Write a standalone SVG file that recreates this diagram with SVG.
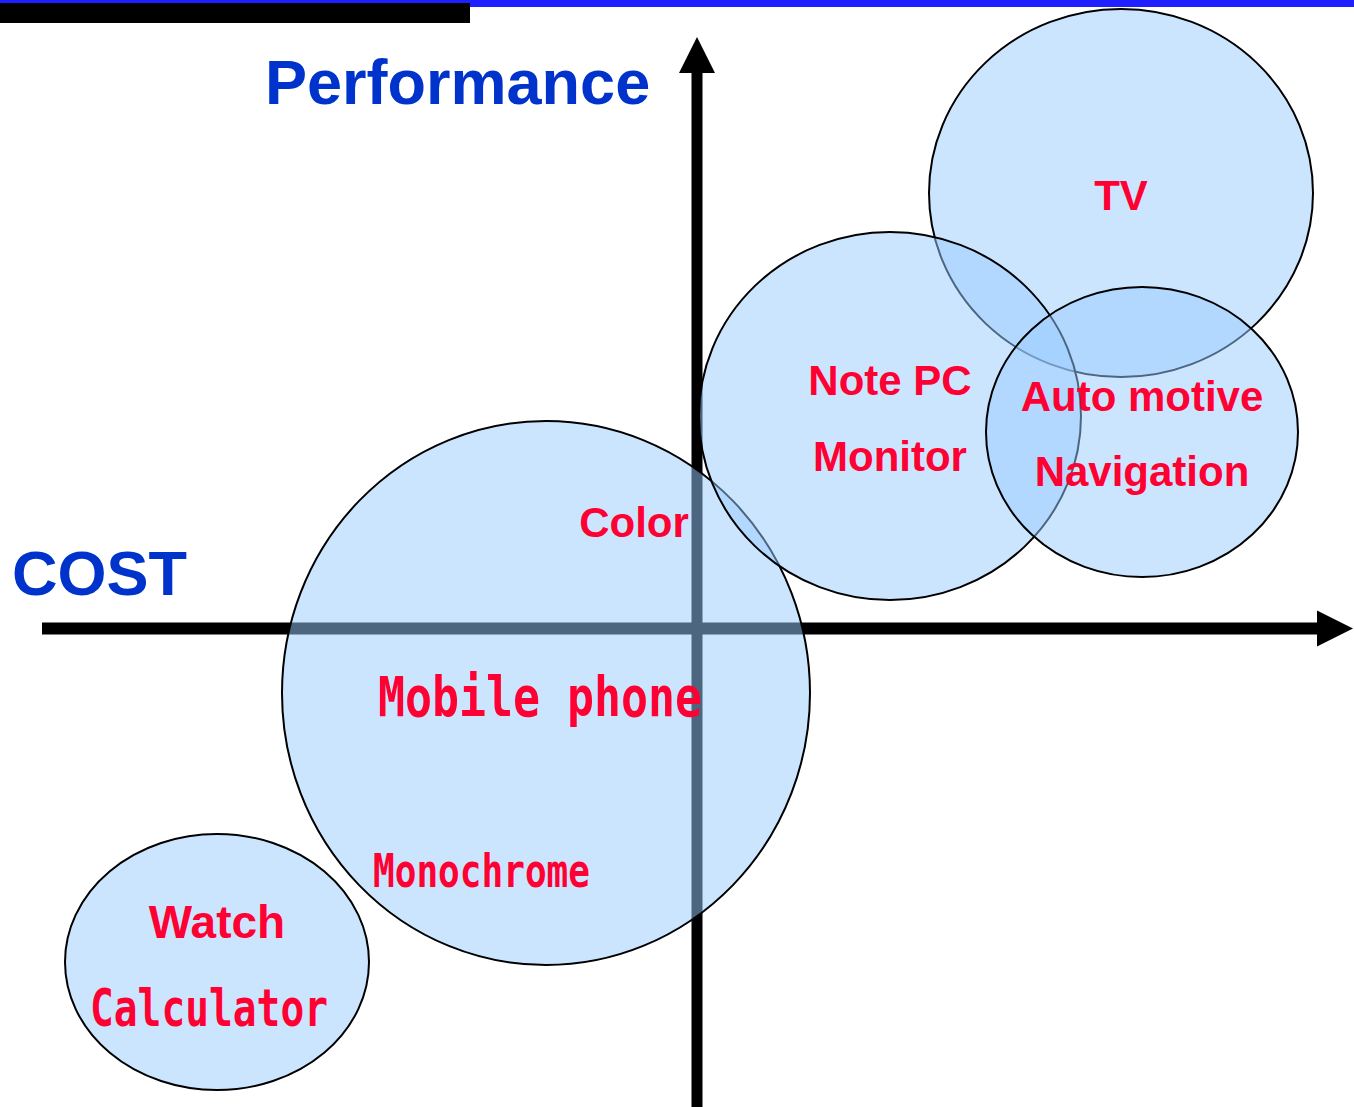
<svg xmlns="http://www.w3.org/2000/svg" width="1354" height="1107" viewBox="0 0 1354 1107">
<style>
.bubble{fill:#99ccff;fill-opacity:0.5;stroke:#000;stroke-width:2}
.axis{stroke:#000;fill:none}
.head{fill:#000}
.title{font-family:"Liberation Sans",Arial,sans-serif;font-weight:bold;font-size:63px;fill:#0033cc}
.lbl{font-family:"Liberation Sans",Arial,sans-serif;font-weight:bold;font-size:42px;fill:#ff0033;text-anchor:middle}
.mono{font-family:"DejaVu Sans Mono","Liberation Mono",monospace;font-weight:bold;fill:#ff0033}
</style>
<rect x="0" y="0" width="1354" height="7" fill="#1f1fff"/>
<rect x="0" y="3" width="470" height="20" fill="#000"/>
<g id="connectors">
<line class="axis" x1="697" y1="70" x2="697" y2="1107" stroke-width="11"/>
<polygon class="head" points="697,37 679,73 715,73"/>
<line class="axis" x1="42" y1="628.5" x2="1320" y2="628.5" stroke-width="12"/>
<polygon class="head" points="1353,628.5 1317,610.5 1317,646.5"/>
</g>
<text class="title" x="265" y="104">Performance</text>
<text class="title" x="12" y="595">COST</text>
<g id="watch">
<ellipse class="bubble" cx="217" cy="962" rx="152" ry="128"/>
</g>
<g id="mobile">
<ellipse class="bubble" cx="546" cy="693" rx="264" ry="272"/>
</g>
<g id="tv">
<ellipse class="bubble" cx="1121" cy="193" rx="192" ry="184"/>
</g>
<g id="notepc">
<ellipse class="bubble" cx="890" cy="416" rx="191" ry="184"/>
</g>
<g id="auto">
<ellipse class="bubble" cx="1142" cy="432" rx="156" ry="145"/>
</g>
<g id="labels">
<text class="lbl" x="1121" y="210">TV</text>
<text class="lbl" x="890" y="395">Note PC</text>
<text class="lbl" x="890" y="471">Monitor</text>
<text class="lbl" x="1142" y="411">Auto motive</text>
<text class="lbl" x="1142" y="486">Navigation</text>
<text class="lbl" x="634" y="537">Color</text>
<text class="lbl" x="217" y="938" style="font-size:46px">Watch</text>
<text class="mono" x="378" y="716" font-size="56" textLength="324" lengthAdjust="spacingAndGlyphs">Mobile phone</text>
<text class="mono" x="90" y="1026" font-size="52" textLength="238" lengthAdjust="spacingAndGlyphs">Calculator</text>
<text class="mono" x="373" y="887" font-size="46" textLength="217" lengthAdjust="spacingAndGlyphs">Monochrome</text>
</g>
</svg>
